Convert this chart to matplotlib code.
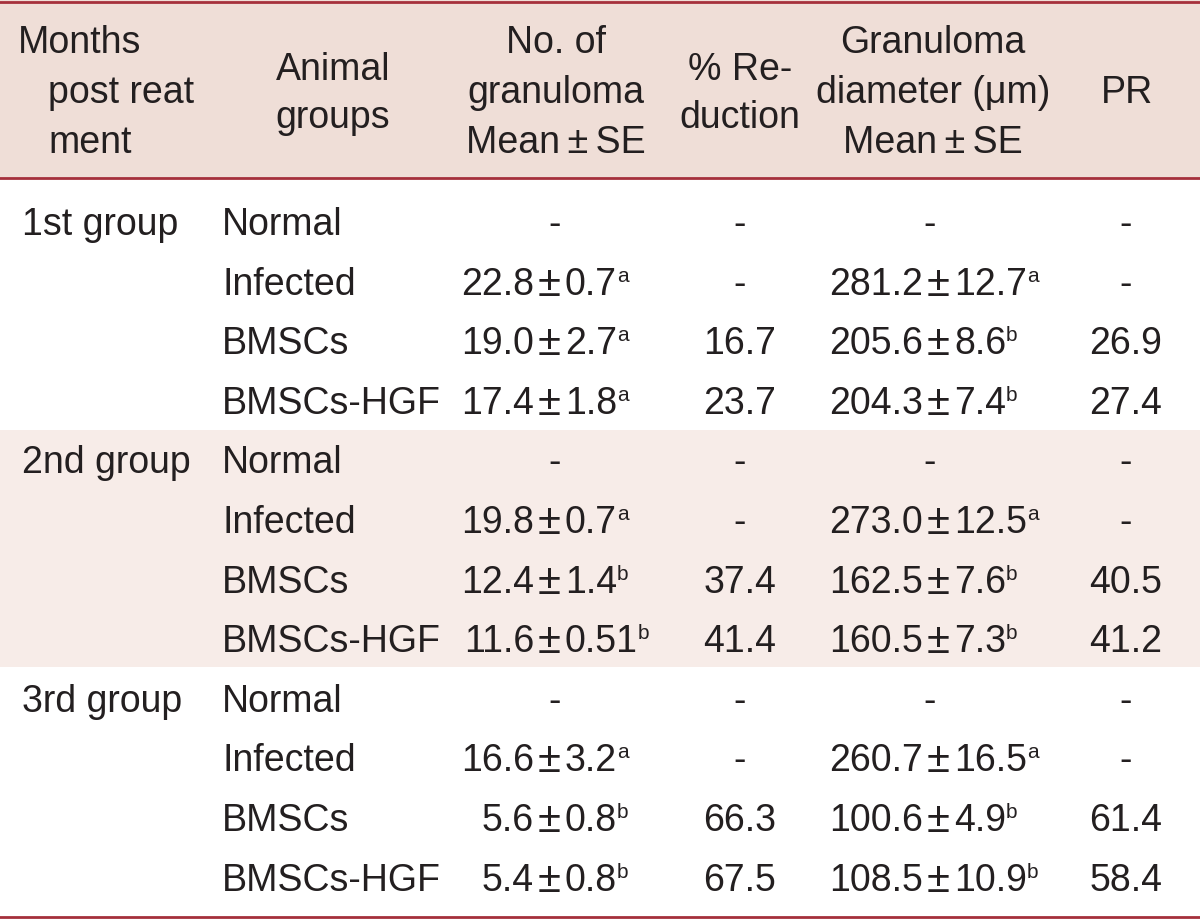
import matplotlib
matplotlib.use("Agg")
import matplotlib.pyplot as plt

plt.rcParams['font.family'] = ['Liberation Sans', 'DejaVu Sans']

# table content
groups = ['1st group', '2nd group', '3rd group']
animals = ['Normal', 'Infected', 'BMSCs', 'BMSCs-HGF']

num_mean = ['-', '22.8', '19.0', '17.4', '-', '19.8', '12.4', '11.6', '-', '16.6', '5.6', '5.4']
num_se = ['', '0.7', '2.7', '1.8', '', '0.7', '1.4', '0.51', '', '3.2', '0.8', '0.8']
num_sig = ['', 'a', 'a', 'a', '', 'a', 'b', 'b', '', 'a', 'b', 'b']
reduction = ['-', '-', '16.7', '23.7', '-', '-', '37.4', '41.4', '-', '-', '66.3', '67.5']
diam_mean = ['-', '281.2', '205.6', '204.3', '-', '273.0', '162.5', '160.5', '-', '260.7', '100.6', '108.5']
diam_se = ['', '12.7', '8.6', '7.4', '', '12.5', '7.6', '7.3', '', '16.5', '4.9', '10.9']
diam_sig = ['', 'a', 'b', 'b', '', 'a', 'b', 'b', '', 'a', 'b', 'b']
pr = ['-', '-', '26.9', '27.4', '-', '-', '40.5', '41.2', '-', '-', '61.4', '58.4']

TXT = '#231f20'
RED = '#a5303b'
HEAD_BG = '#efded7'
BAND_BG = '#f7ece8'
FS = 27
SUP = 15

fig = plt.figure(figsize=(12, 9.19), dpi=100)
ax = fig.add_axes([0, 0, 1, 1])
ax.set_xlim(0, 1200)
ax.set_ylim(919, 0)
ax.axis('off')

ax.axhspan(0, 178, color=HEAD_BG, lw=0)
ax.axhspan(430, 667, color=BAND_BG, lw=0)
for y in (1.5, 178, 916.5):
    ax.axhline(y, color=RED, lw=2.0)


def txt(x, y, s, ha='left', size=FS):
    return ax.text(x, y, s, ha=ha, va='baseline', fontsize=size, color=TXT)


# header
txt(18, 53, 'Months')
txt(48, 103, 'post reat')
txt(48, 153, 'ment')
txt(333, 80, 'Animal', 'center')
txt(333, 128, 'groups', 'center')
txt(556, 53, 'No. of', 'center')
txt(556, 103, 'granuloma', 'center')
txt(556, 153, 'Mean\u2009\u00b1\u2009SE', 'center')
txt(740, 80, '% Re-', 'center')
txt(740, 128, 'duction', 'center')
txt(933, 53, 'Granuloma', 'center')
txt(933, 103, 'diameter (\u03bcm)', 'center')
txt(933, 153, 'Mean\u2009\u00b1\u2009SE', 'center')
txt(1127, 103, 'PR', 'center')


def pm_value(x_pm, y, mean, se, sig, x_dash):
    if not se:
        txt(x_dash, y, mean, 'center')
        return
    txt(x_pm - 15, y, mean, 'right')
    txt(x_pm, y + 1, '\u00b1', 'center', size=30)
    t = txt(x_pm + 16, y, se, 'left')
    ax.annotate(sig, xy=(1, 1), xycoords=t, xytext=(0, 0), textcoords='offset points',
                ha='left', va='top', fontsize=SUP, color=TXT)


# body
y0, dy = 235, 59.6
for i in range(12):
    y = y0 + dy * i
    if i % 4 == 0:
        txt(22, y, groups[i // 4])
    txt(222, y, animals[i % 4])
    pm_value(549, y, num_mean[i], num_se[i], num_sig[i], 555)
    txt(740, y, reduction[i], 'center')
    pm_value(938, y, diam_mean[i], diam_se[i], diam_sig[i], 930)
    txt(1126, y, pr[i], 'center')

fig.savefig('out.png', dpi=100)
